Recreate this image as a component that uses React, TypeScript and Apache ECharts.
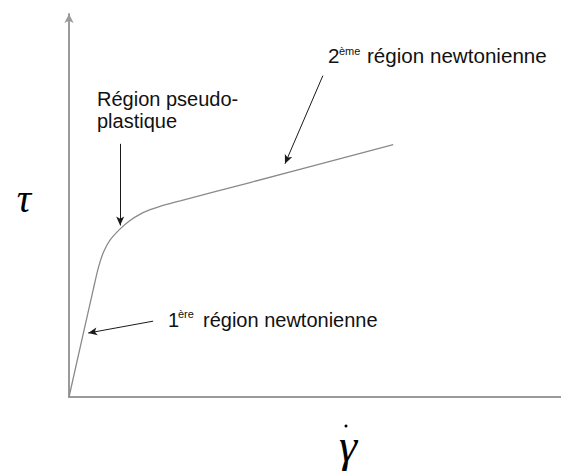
import React, { useEffect, useRef } from "react";
import * as echarts from "echarts";

// Flow curve (shear stress vs shear rate) (axis units 0..100)
const curveX = [0, 4.9, 6.0, 7.0, 8.3, 10.4, 12.4, 14.4, 16.5, 18.5, 20.5, 22.6, 36.8, 65.9];
const curveY = [0, 27.9, 33.9, 37.8, 40.9, 43.9, 46.1, 47.7, 48.9, 49.8, 50.5, 51.2, 56.0, 65.9];

// Annotation arrows: [fromX, fromY, toX, toY] in axis units
const arrowPseudo = [10.4, 66.1, 10.4, 44.8];
const arrowFirst = [17.1, 19.8, 3.9, 16.7];
const arrowSecond = [51.6, 83.9, 43.9, 60.9];

const labelPseudo = ["Région pseudo-", "plastique"];
const labelFirstNum = "1";
const labelFirstSup = "ère";
const labelFirstRest = "région newtonienne";
const labelSecondNum = "2";
const labelSecondSup = "ème";
const labelSecondRest = "région newtonienne";
const yAxisSymbol = "τ";
const xAxisSymbol = "γ";

export default function App() {
  const ref = useRef<HTMLDivElement>(null);
  useEffect(() => {
    if (!ref.current) return;
    const chart = echarts.init(ref.current, null, { renderer: "svg" });
    const sans = "'Liberation Sans', Arial, sans-serif";
    const serif = "'Liberation Serif', 'Times New Roman', serif";
    const arrow = (a: number[]) => [
      { coord: [a[0], a[1]] },
      { coord: [a[2], a[3]] },
    ];
    chart.setOption({
      animation: false,
      backgroundColor: "#ffffff",
      grid: { left: 69, right: 0, top: 14, bottom: 74 },
      xAxis: {
        type: "value",
        min: 0,
        max: 100,
        axisLine: { show: true, lineStyle: { color: "#9a9a9a", width: 2 } },
        axisTick: { show: false },
        axisLabel: { show: false },
        splitLine: { show: false },
      },
      yAxis: {
        type: "value",
        min: 0,
        max: 100,
        axisLine: {
          show: true,
          symbol: ["none", "arrow"],
          symbolSize: [7, 9],
          lineStyle: { color: "#9a9a9a", width: 2 },
        },
        axisTick: { show: false },
        axisLabel: { show: false },
        splitLine: { show: false },
      },
      series: [
        {
          type: "line",
          data: curveX.map((x, i) => [x, curveY[i]]),
          smooth: 0.3,
          showSymbol: false,
          silent: true,
          lineStyle: { color: "#8a8a8a", width: 1.3 },
          markLine: {
            silent: true,
            symbol: ["none", "arrow"],
            symbolSize: [6, 9],
            label: { show: false },
            lineStyle: { color: "#1a1a1a", width: 1, type: "solid" },
            data: [arrow(arrowPseudo), arrow(arrowFirst), arrow(arrowSecond)],
          },
        },
      ],
      graphic: [
        { type: "text", x: 97, y: 99, style: { text: labelPseudo[0], font: `20px ${sans}`, fill: "#111", verticalAlign: "middle" } },
        { type: "text", x: 97, y: 121, style: { text: labelPseudo[1], font: `20px ${sans}`, fill: "#111", verticalAlign: "middle" } },
        { type: "text", x: 328, y: 55, style: { text: labelSecondNum, font: `20.6px ${sans}`, fill: "#111", verticalAlign: "middle" } },
        { type: "text", x: 339, y: 51, style: { text: labelSecondSup, font: `11px ${sans}`, fill: "#111", verticalAlign: "middle" } },
        { type: "text", x: 367, y: 55, style: { text: labelSecondRest, font: `20.6px ${sans}`, fill: "#111", verticalAlign: "middle" } },
        { type: "text", x: 168, y: 320, style: { text: labelFirstNum, font: `20px ${sans}`, fill: "#111", verticalAlign: "middle" } },
        { type: "text", x: 178, y: 314, style: { text: labelFirstSup, font: `11px ${sans}`, fill: "#111", verticalAlign: "middle" } },
        { type: "text", x: 203, y: 320, style: { text: labelFirstRest, font: `20px ${sans}`, fill: "#111", verticalAlign: "middle" } },
        { type: "text", x: 24, y: 198, style: { text: yAxisSymbol, font: `italic 40px ${serif}`, fill: "#000", align: "center", verticalAlign: "middle" } },
        { type: "text", x: 348, y: 445, style: { text: xAxisSymbol, font: `italic 46px ${serif}`, fill: "#000", align: "center", verticalAlign: "middle" } },
        { type: "circle", shape: { cx: 346, cy: 426, r: 1.5 }, style: { fill: "#000" } },
      ],
    });
    return () => chart.dispose();
  }, []);
  return (
    <div
      ref={ref}
      style={{ position: "fixed", left: 0, top: 0, width: 561, height: 471, background: "#fff" }}
    />
  );
}
